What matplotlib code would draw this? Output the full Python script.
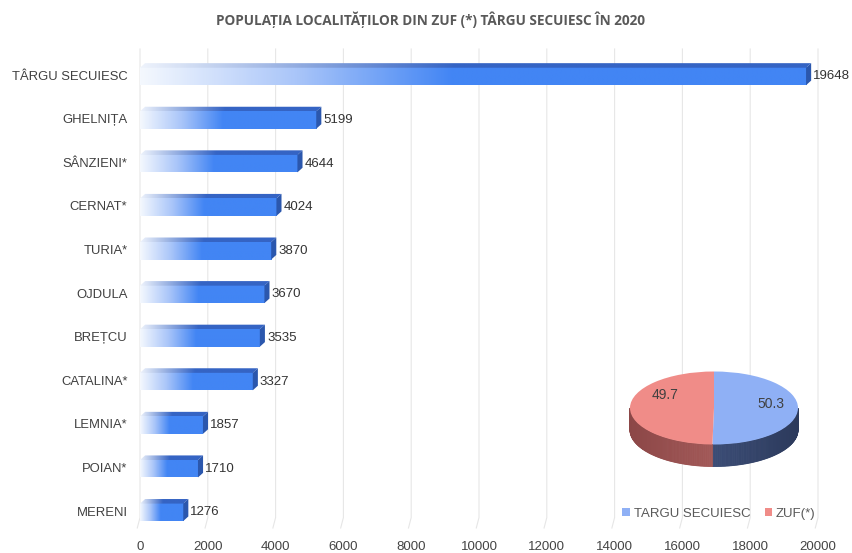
import matplotlib.pyplot as plt
import numpy as np
from matplotlib.colors import LinearSegmentedColormap, to_rgb
from matplotlib.patches import Polygon, Wedge, Patch
from matplotlib.transforms import Affine2D

plt.rcParams['font.family'] = ['Liberation Sans', 'DejaVu Sans']

localitati = ["TÂRGU SECUIESC", "GHELNIȚA", "SÂNZIENI*", "CERNAT*", "TURIA*",
              "OJDULA", "BREȚCU", "CATALINA*", "LEMNIA*", "POIAN*", "MERENI"]
populatie = [19648, 5199, 4644, 4024, 3870, 3670, 3535, 3327, 1857, 1710, 1276]

pie_labels = ["TARGU SECUIESC", "ZUF(*)"]
pie_values = [50.3, 49.7]
pie_colors = ["#8fb0f5", "#f08c88"]
pie_side = [("#4a5f8f", "#2c3a5c"), ("#b86a68", "#8c4747")]

title = "POPULAȚIA LOCALITĂȚILOR DIN ZUF (*) TÂRGU SECUIESC ÎN 2020"

fig = plt.figure(figsize=(8.52, 5.53), dpi=100)
ax = fig.add_axes([140 / 852, 1 - 528 / 553, 678 / 852, 479 / 553])

front_cmap = LinearSegmentedColormap.from_list("front", ["#f4f8fe", "#a9c5f9", "#4285f4"])
top_cmap = LinearSegmentedColormap.from_list("top", ["#eef3fc", "#3564c4"])
ramp = np.clip(np.linspace(0, 1, 300) / 0.47, 0, 1)[None, :]

h = 0.40
dx = 150
dy = 0.105
for i, v in enumerate(populatie):
    yc = i + 0.03
    ax.imshow(ramp, cmap=front_cmap, extent=(0, v, yc + h / 2, yc - h / 2),
              aspect='auto', zorder=3, interpolation='bilinear')
    top = Polygon([(0, yc - h / 2), (v, yc - h / 2), (v + dx, yc - h / 2 - dy), (dx, yc - h / 2 - dy)],
                  closed=True, facecolor='none', edgecolor='none')
    ax.add_patch(top)
    im = ax.imshow(ramp, cmap=top_cmap, extent=(0, v + dx, yc - h / 2, yc - h / 2 - dy),
                   aspect='auto', zorder=3, interpolation='bilinear')
    im.set_clip_path(top)
    ax.add_patch(Polygon([(v, yc - h / 2), (v + dx, yc - h / 2 - dy), (v + dx, yc + h / 2 - dy), (v, yc + h / 2)],
                         closed=True, facecolor="#2b57ad", edgecolor='none', zorder=3))
    ax.text(v + dx + 60, yc, str(v), va='center', ha='left', fontsize=9.5, color='#333333', zorder=4)

ax.set_xlim(0, 20000)
ax.set_ylim(10.39, -0.6)
ax.set_xticks(np.arange(0, 20001, 2000))
ax.set_yticks(range(len(localitati)))
ax.set_yticklabels(localitati, fontsize=9.4, color='#404040')
ax.tick_params(axis='x', labelsize=9.5, labelcolor='#444444', length=0, pad=9)
ax.tick_params(axis='y', length=0, pad=9)
for s in ax.spines.values():
    s.set_visible(False)
for x in np.arange(0, 20001, 2000):
    ax.plot([x, x, x - 80], [-0.6, 10.15, 10.39], color='#e6e6e6', lw=0.8, zorder=0, clip_on=False)

fig.text(431 / 852, 1 - 20 / 553, title, ha='center', va='center', fontsize=9.8,
         fontweight='bold', color='#595959', family=['Open Sans', 'DejaVu Sans'])

# pie overlay in pixel coordinates
pax = fig.add_axes([0, 0, 1, 1])
pax.set_xlim(0, 852)
pax.set_ylim(553, 0)
pax.axis('off')
cx, cy, rx, ry, depth = 714, 408, 84, 36.5, 22
angles = [90]
for p in pie_values:
    angles.append(angles[-1] - p / sum(pie_values) * 360)

for k in range(len(pie_values)):
    a0, a1 = angles[k + 1], angles[k]
    t = np.radians(np.linspace(a0, a1, 200))
    # side band for the front part (lower half of the ellipse)
    c0, c1 = np.array(to_rgb(pie_side[k][0])), np.array(to_rgb(pie_side[k][1]))
    for j in range(len(t) - 1):
        if np.sin((t[j] + t[j + 1]) / 2) > 0:
            continue
        xs = cx + rx * np.cos(t[j:j + 2])
        ys = cy - ry * np.sin(t[j:j + 2])
        f = (np.cos((t[j] + t[j + 1]) / 2) + 1) / 2
        col = c0 * (1 - f) + c1 * f if k == 0 else c1 * (1 - f) + c0 * f
        pax.add_patch(Polygon([(xs[0], ys[0]), (xs[1], ys[1]), (xs[1], ys[1] + depth), (xs[0], ys[0] + depth)],
                              closed=True, facecolor=col, edgecolor=col, lw=0.6))
    w = Wedge((0, 0), 1, a0, a1, facecolor=pie_colors[k], edgecolor='none')
    w.set_transform(Affine2D().scale(rx, -ry).translate(cx, cy) + pax.transData)
    pax.add_patch(w)

pax.text(cx + 57, cy - 4, f"{pie_values[0]}", ha='center', va='center', fontsize=10, color='#404040')
pax.text(cx - 49, cy - 13, f"{pie_values[1]}", ha='center', va='center', fontsize=10, color='#404040')

handles = [Patch(facecolor=c, edgecolor='none') for c in pie_colors]
fig.legend(handles, pie_labels, loc='center', bbox_to_anchor=(719 / 852, 1 - 514 / 553), ncol=2,
           frameon=False, fontsize=9.5, labelcolor='#595959', handlelength=0.55, handleheight=0.55,
           handletextpad=0.3, columnspacing=1.1)

fig.savefig("out.png", dpi=100)
